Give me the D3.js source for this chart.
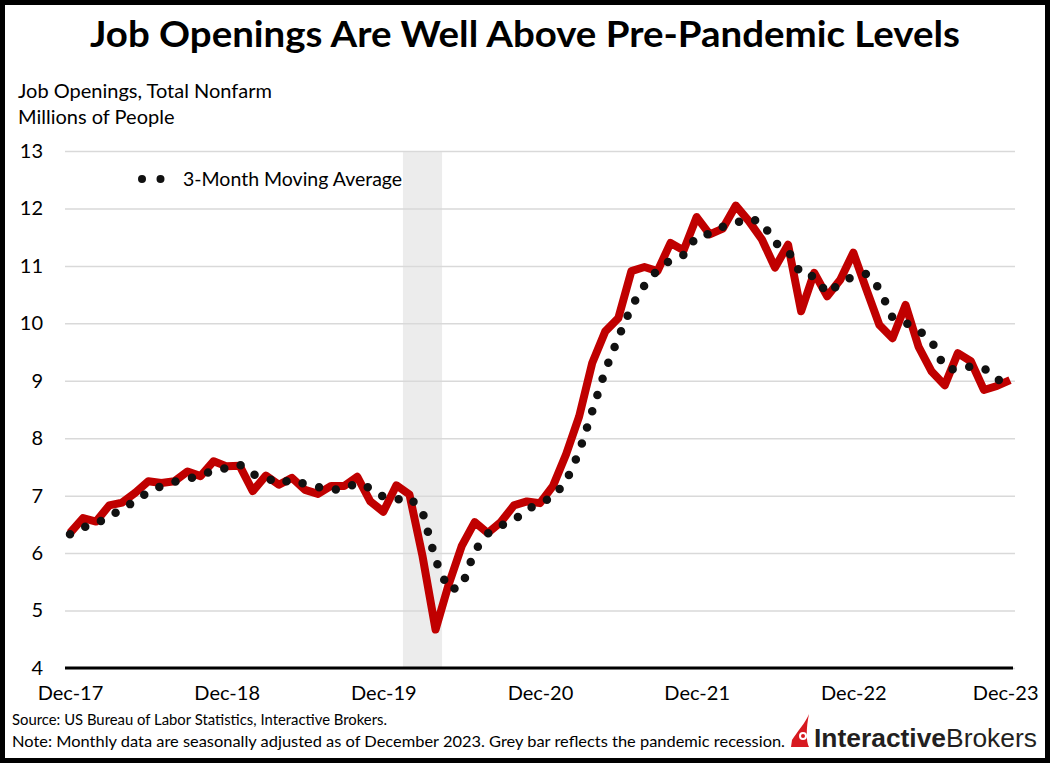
<!DOCTYPE html>
<html>
<head>
<meta charset="utf-8">
<script src="https://cdn.jsdelivr.net/npm/d3@7"></script>
<style>
  body { margin: 0; background: #fff; }
  text { font-family: Lato, "Open Sans", sans-serif; fill: #000; }
</style>
</head>
<body>
<div id="chart"></div>
<script>
"use strict";

// monthly categories, Dec-17 .. Dec-23
const months = [
  "Dec-17",
  "Jan-18","Feb-18","Mar-18","Apr-18","May-18","Jun-18","Jul-18","Aug-18","Sep-18","Oct-18","Nov-18","Dec-18",
  "Jan-19","Feb-19","Mar-19","Apr-19","May-19","Jun-19","Jul-19","Aug-19","Sep-19","Oct-19","Nov-19","Dec-19",
  "Jan-20","Feb-20","Mar-20","Apr-20","May-20","Jun-20","Jul-20","Aug-20","Sep-20","Oct-20","Nov-20","Dec-20",
  "Jan-21","Feb-21","Mar-21","Apr-21","May-21","Jun-21","Jul-21","Aug-21","Sep-21","Oct-21","Nov-21","Dec-21",
  "Jan-22","Feb-22","Mar-22","Apr-22","May-22","Jun-22","Jul-22","Aug-22","Sep-22","Oct-22","Nov-22","Dec-22",
  "Jan-23","Feb-23","Mar-23","Apr-23","May-23","Jun-23","Jul-23","Aug-23","Sep-23","Oct-23","Nov-23","Dec-23"
];

// job openings, millions
const openings = [
  6.35,
  6.61, 6.55, 6.83, 6.88, 7.05, 7.25, 7.22, 7.25, 7.42, 7.34, 7.60, 7.51,
  7.52, 7.08, 7.35, 7.19, 7.31, 7.10, 7.03, 7.17, 7.17, 7.33, 6.90, 6.72,
  7.18, 7.02, 5.95, 4.67, 5.45, 6.12, 6.54, 6.35, 6.54, 6.83, 6.90, 6.87,
  7.17, 7.72, 8.38, 9.31, 9.86, 10.09, 10.91, 10.98, 10.91, 11.40, 11.27, 11.85,
  11.55, 11.65, 12.05, 11.78, 11.46, 10.97, 11.37, 10.21, 10.88, 10.47, 10.76, 11.23,
  10.59, 9.97, 9.74, 10.32, 9.59, 9.16, 8.92, 9.48, 9.34, 8.84, 8.91, 9.01
];

// 3-month moving average
const movingAvg = [
  6.33,
  6.45, 6.50, 6.66, 6.75, 6.92, 7.06, 7.17, 7.24, 7.30, 7.34, 7.45, 7.48,
  7.54, 7.37, 7.32, 7.21, 7.28, 7.20, 7.15, 7.10, 7.12, 7.22, 7.13, 6.98,
  6.93, 6.97, 6.72, 5.88, 5.36, 5.41, 6.04, 6.34, 6.48, 6.57, 6.76, 6.87,
  6.98, 7.25, 7.76, 8.47, 9.18, 9.75, 10.29, 10.66, 10.93, 11.10, 11.19, 11.51,
  11.56, 11.68, 11.75, 11.83, 11.76, 11.40, 11.27, 10.85, 10.82, 10.52, 10.70, 10.82,
  10.86, 10.60, 10.10, 10.01, 9.88, 9.69, 9.22, 9.19, 9.25, 9.22, 9.03, 8.92
];

const yTicks = [4, 5, 6, 7, 8, 9, 10, 11, 12, 13];
const xTickLabels = ["Dec-17", "Dec-18", "Dec-19", "Dec-20", "Dec-21", "Dec-22", "Dec-23"];
const recession = ["Feb-20", "Apr-20"];

const W = 1050, H = 763;
const svg = d3.select("#chart").append("svg")
  .attr("width", W)
  .attr("height", H);

const x = d3.scalePoint().domain(months).range([70, 1010]);
const y = d3.scaleLinear().domain([4, 13]).range([668, 151]);
const step = x.step();

// recession shading
svg.append("rect")
  .attr("x", x(recession[0]) - step / 2)
  .attr("width", x(recession[1]) - x(recession[0]) + step)
  .attr("y", y(13))
  .attr("height", y(4) - y(13))
  .attr("fill", "#ececec");

// y axis + gridlines
const yAxis = svg.append("g")
  .attr("transform", "translate(65,0)")
  .call(d3.axisLeft(y).tickValues(yTicks).tickSize(-950).tickPadding(22));
yAxis.select(".domain").remove();
yAxis.selectAll(".tick line").attr("stroke", "#d9d9d9").attr("stroke-width", 1.5);
yAxis.selectAll(".tick text").style("font-size", "20px").attr("fill", "#000");

// x axis
const xAxis = svg.append("g")
  .attr("transform", "translate(0,668)")
  .call(d3.axisBottom(x).tickValues(xTickLabels).tickSize(0).tickPadding(18));
xAxis.select(".domain").remove();
xAxis.selectAll(".tick text").style("font-size", "20px").attr("fill", "#000");
xAxis.selectAll(".tick text")
  .filter(function(d) { return d === "Dec-23"; })
  .attr("text-anchor", "end")
  .attr("dx", 28);

svg.append("line")
  .attr("x1", 65).attr("x2", 1013)
  .attr("y1", y(4)).attr("y2", y(4))
  .attr("stroke", "#000").attr("stroke-width", 3);

// series
const line = d3.line()
  .x(function(d, i) { return x(months[i]); })
  .y(function(d) { return y(d); });

svg.append("path")
  .datum(openings)
  .attr("d", line)
  .attr("fill", "none")
  .attr("stroke", "#c00000")
  .attr("stroke-width", 8)
  .attr("stroke-linejoin", "round");

svg.append("path")
  .datum(movingAvg)
  .attr("d", line)
  .attr("fill", "none")
  .attr("stroke", "#111")
  .attr("stroke-width", 8.5)
  .attr("stroke-linecap", "round")
  .attr("stroke-dasharray", "0 17");

// legend
svg.append("line")
  .attr("x1", 142).attr("x2", 162)
  .attr("y1", 179).attr("y2", 179)
  .attr("stroke", "#111")
  .attr("stroke-width", 8)
  .attr("stroke-linecap", "round")
  .attr("stroke-dasharray", "0 18.5");
svg.append("text")
  .attr("x", 183).attr("y", 186)
  .style("font-size", "19.5px")
  .text("3-Month Moving Average");

// titles
svg.append("text")
  .attr("x", 90).attr("y", 47)
  .attr("textLength", 870)
  .attr("lengthAdjust", "spacingAndGlyphs")
  .style("font-size", "37px")
  .style("font-weight", "bold")
  .text("Job Openings Are Well Above Pre-Pandemic Levels");

svg.append("text")
  .attr("x", 18).attr("y", 98)
  .style("font-size", "20px")
  .text("Job Openings, Total Nonfarm");
svg.append("text")
  .attr("x", 18).attr("y", 124)
  .style("font-size", "20px")
  .text("Millions of People");

// footnotes
svg.append("text")
  .attr("x", 12).attr("y", 725)
  .attr("textLength", 375)
  .attr("lengthAdjust", "spacingAndGlyphs")
  .style("font-size", "16px")
  .text("Source: US Bureau of Labor Statistics, Interactive Brokers.");
svg.append("text")
  .attr("x", 12).attr("y", 747)
  .attr("textLength", 773)
  .attr("lengthAdjust", "spacingAndGlyphs")
  .style("font-size", "16px")
  .text("Note: Monthly data are seasonally adjusted as of December 2023. Grey bar reflects the pandemic recession.");

// logo
const logo = svg.append("g");
logo.append("path")
  .attr("d", "M809,714 C806,722 797,732 792,740 L791,747 L809,747 C806,742 806,728 809,714 Z")
  .attr("fill", "#d71920");
logo.append("circle").attr("cx", 803).attr("cy", 736).attr("r", 4).attr("fill", "#fff");
logo.append("circle").attr("cx", 803).attr("cy", 736).attr("r", 2).attr("fill", "#d71920");
const logoText = logo.append("text")
  .attr("x", 814).attr("y", 747)
  .attr("textLength", 223)
  .attr("lengthAdjust", "spacingAndGlyphs")
  .style("font-family", "'Liberation Sans', Arial, sans-serif")
  .style("font-size", "25px")
  .attr("fill", "#231f20");
logoText.append("tspan").style("font-weight", "bold").attr("fill", "#231f20").text("Interactive");
logoText.append("tspan").attr("fill", "#231f20").text("Brokers");

// frame
svg.append("rect")
  .attr("x", 2.5).attr("y", 2.5)
  .attr("width", W - 5).attr("height", H - 5)
  .attr("fill", "none")
  .attr("stroke", "#000")
  .attr("stroke-width", 5);
</script>
</body>
</html>
